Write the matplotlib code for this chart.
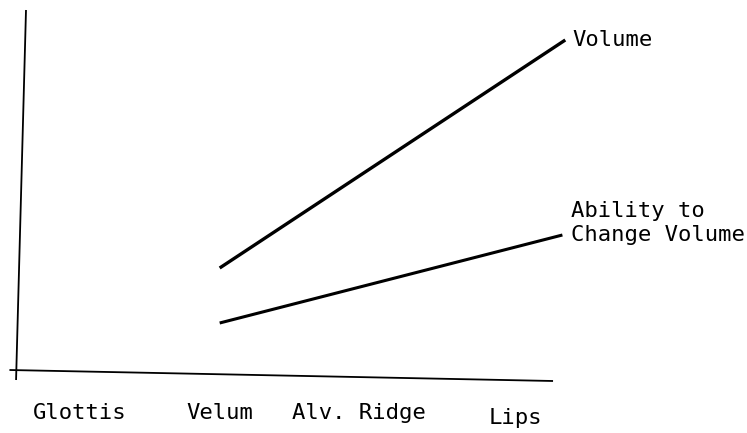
import matplotlib
matplotlib.use("Agg")
import matplotlib.pyplot as plt

# Data (arbitrary units; x = articulator position, y = relative magnitude)
categories = ["Glottis", "Velum", "Alv. Ridge", "Lips"]
category_pos = [0.0, 0.97, 1.94, 3.02]

volume_x = [0.97, 3.37]
volume_y = [1.03, 3.31]

ability_x = [0.97, 3.35]
ability_y = [0.48, 1.36]

series_labels = ["Volume", "Ability to\nChange Volume"]

# Hand-drawn axis lines (slightly skewed as in the sketch)
xaxis_x = [-0.49, 3.285]
xaxis_y = [0.01, -0.10]
yaxis_x = [-0.375, -0.444]
yaxis_y = [3.61, -0.09]

W, H = 747, 433
fig = plt.figure(figsize=(W / 100, H / 100), dpi=100)
ax = fig.add_axes([0, 0, 1, 1])
ax.set_xlim((0 - 80) / 144, (W - 80) / 144)
ax.set_ylim((371 - H) / 100, 371 / 100)
ax.axis("off")

font = "DejaVu Sans Mono"
fs = 16

ax.plot(xaxis_x, xaxis_y, color="black", lw=1.3, solid_capstyle="butt")
ax.plot(yaxis_x, yaxis_y, color="black", lw=1.3, solid_capstyle="butt")

ax.plot(volume_x, volume_y, color="black", lw=2.4, solid_capstyle="butt")
ax.plot(ability_x, ability_y, color="black", lw=2.2, solid_capstyle="butt")

for i, (lab, pos) in enumerate(zip(categories, category_pos)):
    yy = -0.42 if lab != "Lips" else -0.47
    ax.text(pos, yy, lab, family=font, fontsize=fs, ha="center", va="center")

ax.text(volume_x[-1] + 0.05, volume_y[-1] + 0.0, series_labels[0],
        family=font, fontsize=fs, ha="left", va="center")
ax.text(ability_x[-1] + 0.06, ability_y[-1] + 0.12, series_labels[1],
        family=font, fontsize=fs, ha="left", va="center", linespacing=1.3)

fig.savefig("out.png", dpi=100)
